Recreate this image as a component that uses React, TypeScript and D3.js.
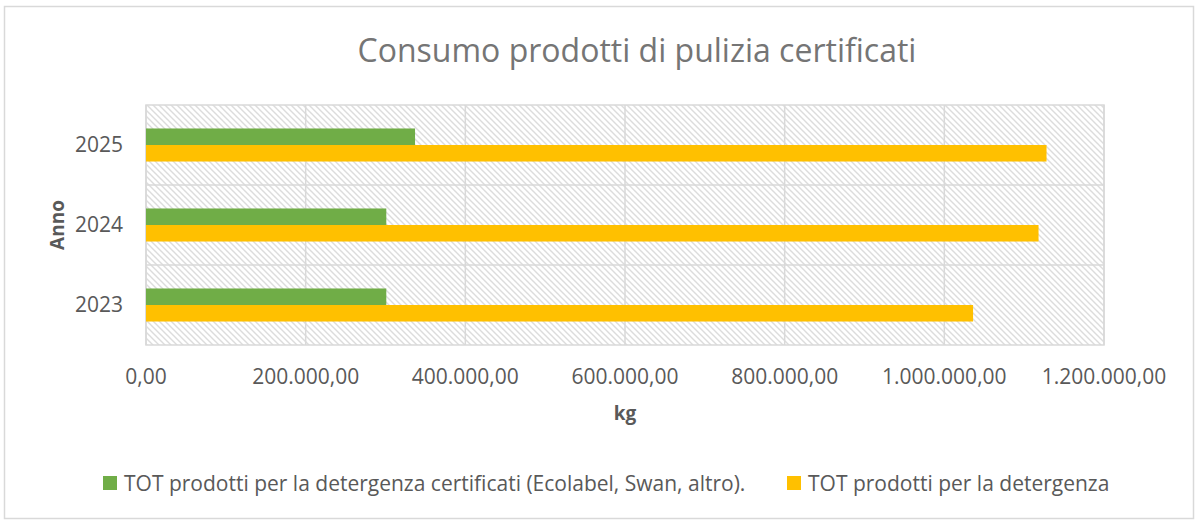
import React from 'react';
import * as d3 from 'd3';

// data
const years = ['2025', '2024', '2023'];
const seriesNames = [
  'TOT prodotti per la detergenza certificati (Ecolabel, Swan, altro).',
  'TOT prodotti per la detergenza',
];
const certificati = [337000, 301000, 301000];
const totali = [1128000, 1118000, 1036000];
const xTicks = [0, 200000, 400000, 600000, 800000, 1000000, 1200000];
const colors = ['#70AD47', '#FFC000'];

const W = 1198;
const H = 523;
const plot = { left: 146, right: 1104, top: 105, bottom: 345 };
const font = '"Open Sans", "DejaVu Sans", sans-serif';
const textColor = '#595959';

const itLocale = d3.formatLocale({
  decimal: ',',
  thousands: '.',
  grouping: [3],
  currency: ['€', ''],
});
const fmt = itLocale.format(',.2f');

export default function App() {
  const x = d3.scaleLinear().domain([0, 1200000]).range([plot.left, plot.right]);
  const y = d3.scaleBand().domain(years).range([plot.top, plot.bottom]).padding(0);
  const sub = d3
    .scaleBand()
    .domain(['0', '1'])
    .range([0, y.bandwidth()])
    .paddingInner(0)
    .paddingOuter(1.42);

  const rows = years.map((yr, i) => ({ yr, vals: [certificati[i], totali[i]] }));

  return (
    <svg
      width={W}
      height={H}
      style={{ position: 'absolute', left: 0, top: 0, background: '#fff' }}
      fontFamily={font}
    >
      <defs>
        <pattern id="hatch" width="6" height="6" patternUnits="userSpaceOnUse">
          <rect width="6" height="6" fill="#fff" />
          <path d="M-1,-1 L7,7 M-4,2 L2,8 M4,-2 L10,4" stroke="#dcdcdc" strokeWidth="1.4" />
        </pattern>
      </defs>

      {/* chart border */}
      <rect x={4.5} y={6.5} width={1189} height={512} fill="#fff" stroke="#d9d9d9" strokeWidth={1.5} />

      <text x={637} y={62} textAnchor="middle" fontSize={32} fill="#757575">
        Consumo prodotti di pulizia certificati
      </text>

      {/* plot area */}
      <rect
        x={plot.left}
        y={plot.top}
        width={plot.right - plot.left}
        height={plot.bottom - plot.top}
        fill="url(#hatch)"
        stroke="#d9d9d9"
        strokeWidth={1.5}
      />
      {xTicks.map((t) => (
        <line key={'gx' + t} x1={x(t)} x2={x(t)} y1={plot.top} y2={plot.bottom} stroke="#d9d9d9" strokeWidth={1.5} />
      ))}
      {years.slice(1).map((yr) => (
        <line
          key={'gy' + yr}
          x1={plot.left}
          x2={plot.right}
          y1={y(yr)!}
          y2={y(yr)!}
          stroke="#d9d9d9"
          strokeWidth={1.5}
        />
      ))}

      {rows.map((r) =>
        r.vals.map((v, j) => (
          <rect
            key={r.yr + j}
            x={x(0)}
            y={y(r.yr)! + sub(String(j))!}
            width={x(v) - x(0)}
            height={sub.bandwidth()}
            fill={colors[j]}
          />
        ))
      )}

      {/* axes labels */}
      {xTicks.map((t) => (
        <text key={'tx' + t} x={x(t)} y={384} textAnchor="middle" fontSize={21} fill={textColor}>
          {fmt(t)}
        </text>
      ))}
      {years.map((yr) => (
        <text
          key={'ty' + yr}
          x={123}
          y={y(yr)! + y.bandwidth() / 2 + 7}
          textAnchor="end"
          fontSize={21}
          fill={textColor}
        >
          {yr}
        </text>
      ))}
      <text x={625} y={420} textAnchor="middle" fontSize={19} fontWeight="bold" fill={textColor}>
        kg
      </text>
      <text
        transform={`translate(64,${(plot.top + plot.bottom) / 2}) rotate(-90)`}
        textAnchor="middle"
        fontSize={19}
        fontWeight="bold"
        fill={textColor}
      >
        Anno
      </text>

      {/* legend */}
      {[103, 787].map((lx, j) => (
        <g key={'lg' + j} transform={`translate(${lx},476)`}>
          <rect width={14} height={14} fill={colors[j]} />
          <text x={21} y={14.5} fontSize={21} fill={textColor}>
            {seriesNames[j]}
          </text>
        </g>
      ))}
    </svg>
  );
}
